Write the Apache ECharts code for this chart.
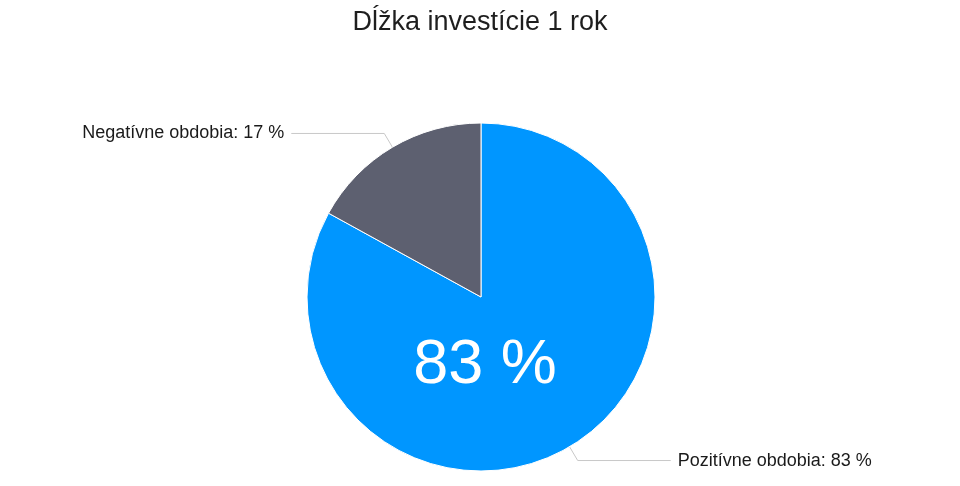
<!DOCTYPE html>
<html>
<head>
<meta charset="utf-8">
<script src="https://cdn.jsdelivr.net/npm/echarts@6/dist/echarts.min.js"></script>
<style>
html,body{margin:0;padding:0;background:#fff;}
#c{width:960px;height:486px;}
</style>
</head>
<body>
<div id="c"></div>
<script>
const titleText = 'Dĺžka investície 1 rok';
const categories = ['Pozitívne obdobia', 'Negatívne obdobia'];
const values = [83, 17];
const colors = ['#0096ff', '#5d6070'];
const bigLabel = '83 %';

const chart = echarts.init(document.getElementById('c'));
const FONT = '"Liberation Sans", Arial, Helvetica, sans-serif';
const pieData = categories.map((n, i) => ({ name: n, value: values[i], itemStyle: { color: colors[i] } }));
chart.setOption({
  animation: false,
  title: {
    text: titleText, left: 'center', top: 4,
    textStyle: { fontFamily: FONT, fontSize: 27, fontWeight: 'normal', color: '#1e1e1e' }
  },
  series: [
    {
      type: 'pie',
      center: [481, 297],
      radius: [0, 174],
      startAngle: 90,
      clockwise: true,
      itemStyle: { borderColor: '#fff', borderWidth: 1 },
      label: {
        show: true, position: 'outside',
        fontFamily: FONT, fontSize: 18, color: '#1a1a1a',
        formatter: p => p.name + ': ' + p.value + ' %',
        distanceToLabelLine: 7
      },
      labelLine: { show: true, length: 16, length2: 93, lineStyle: { color: '#c8c8c8', width: 1 } },
      emphasis: { disabled: true },
      data: pieData
    },
    {
      type: 'pie',
      silent: true,
      center: [481, 297],
      radius: [0, 174],
      startAngle: 90,
      itemStyle: { color: 'rgba(0,0,0,0)' },
      label: {
        show: true, position: 'center',
        fontFamily: FONT, fontSize: 63, color: '#fff',
        offset: [4, 69],
        formatter: () => bigLabel
      },
      labelLine: { show: false },
      emphasis: { disabled: true },
      data: pieData.map((d, i) => ({ name: d.name, value: d.value, label: { show: i === 0 } }))
    }
  ]
});
</script>
</body>
</html>
